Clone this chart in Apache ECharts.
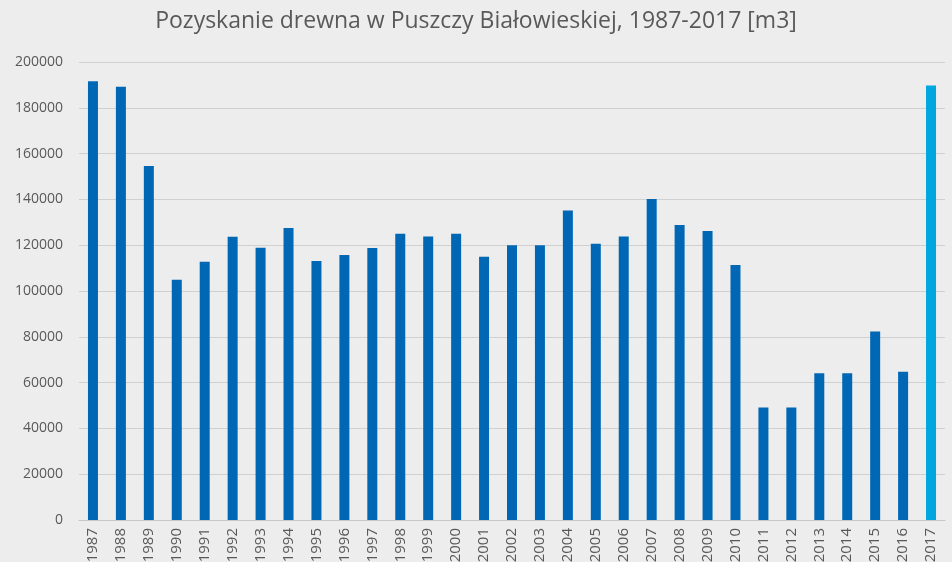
<!DOCTYPE html>
<html>
<head>
<meta charset="utf-8">
<script src="https://cdn.jsdelivr.net/npm/echarts@6/dist/echarts.min.js"></script>
<style>
  html, body { margin: 0; padding: 0; background: #ededed; }
  #main { width: 952px; height: 562px; }
</style>
</head>
<body>
<div id="main"></div>
<script>
'use strict'
// lata i pozyskanie drewna [m3]
var years = ['1987', '1988', '1989', '1990', '1991', '1992', '1993', '1994', '1995', '1996',
             '1997', '1998', '1999', '2000', '2001', '2002', '2003', '2004', '2005', '2006',
             '2007', '2008', '2009', '2010', '2011', '2012', '2013', '2014', '2015', '2016', '2017'];

var volumes = [191600, 189200, 154600, 104900, 112800, 123700, 118900, 127500, 113100, 115700,
               118800, 125000, 123800, 125000, 115000, 120000, 120000, 135100, 120600, 123800,
               140200, 128800, 126200, 111300, 49100, 49100, 64100, 64100, 82300, 64700, 189700];

var yTicks = [0, 20000, 40000, 60000, 80000, 100000, 120000, 140000, 160000, 180000, 200000];

var darkBlue = '#0067b4';
var lightBlue = '#00a6e0';

var barData = volumes.map(function (v, i) {
    return {
        value: v,
        itemStyle: { color: i === volumes.length - 1 ? lightBlue : darkBlue }
    };
});

var option = {
    backgroundColor: '#ededed',
    textStyle: { fontFamily: 'Open Sans, sans-serif' },
    title: {
        text: 'Pozyskanie drewna w Puszczy Białowieskiej, 1987-2017 [m3]',
        left: 'center',
        top: 5,
        textStyle: {
            color: '#595959',
            fontSize: 23,
            fontWeight: 'normal',
            fontFamily: 'Open Sans, sans-serif'
        }
    },
    grid: {
        left: 79,
        right: 7,
        top: 62,
        bottom: 42,
        containLabel: false,
        outerBoundsMode: 'none'
    },
    xAxis: {
        type: 'category',
        data: years,
        axisTick: { show: false },
        axisLine: { lineStyle: { color: '#c8c8c8', width: 1 } },
        axisLabel: {
            rotate: 90,
            color: '#595959',
            fontSize: 15,
            margin: 8,
            interval: 0
        }
    },
    yAxis: {
        type: 'value',
        min: yTicks[0],
        max: yTicks[yTicks.length - 1],
        interval: yTicks[1] - yTicks[0],
        axisLine: { show: false },
        axisTick: { show: false },
        axisLabel: {
            color: '#595959',
            fontSize: 14,
            margin: 16,
            formatter: function (v) { return String(v); }
        },
        splitLine: { lineStyle: { color: '#d0d0d0', width: 1 } }
    },
    series: [
        {
            name: 'Pozyskanie',
            type: 'bar',
            barWidth: 10,
            data: barData
        }
    ]
};

var myChart = echarts.init(document.getElementById('main'));
myChart.setOption(option);
</script>
</body>
</html>
